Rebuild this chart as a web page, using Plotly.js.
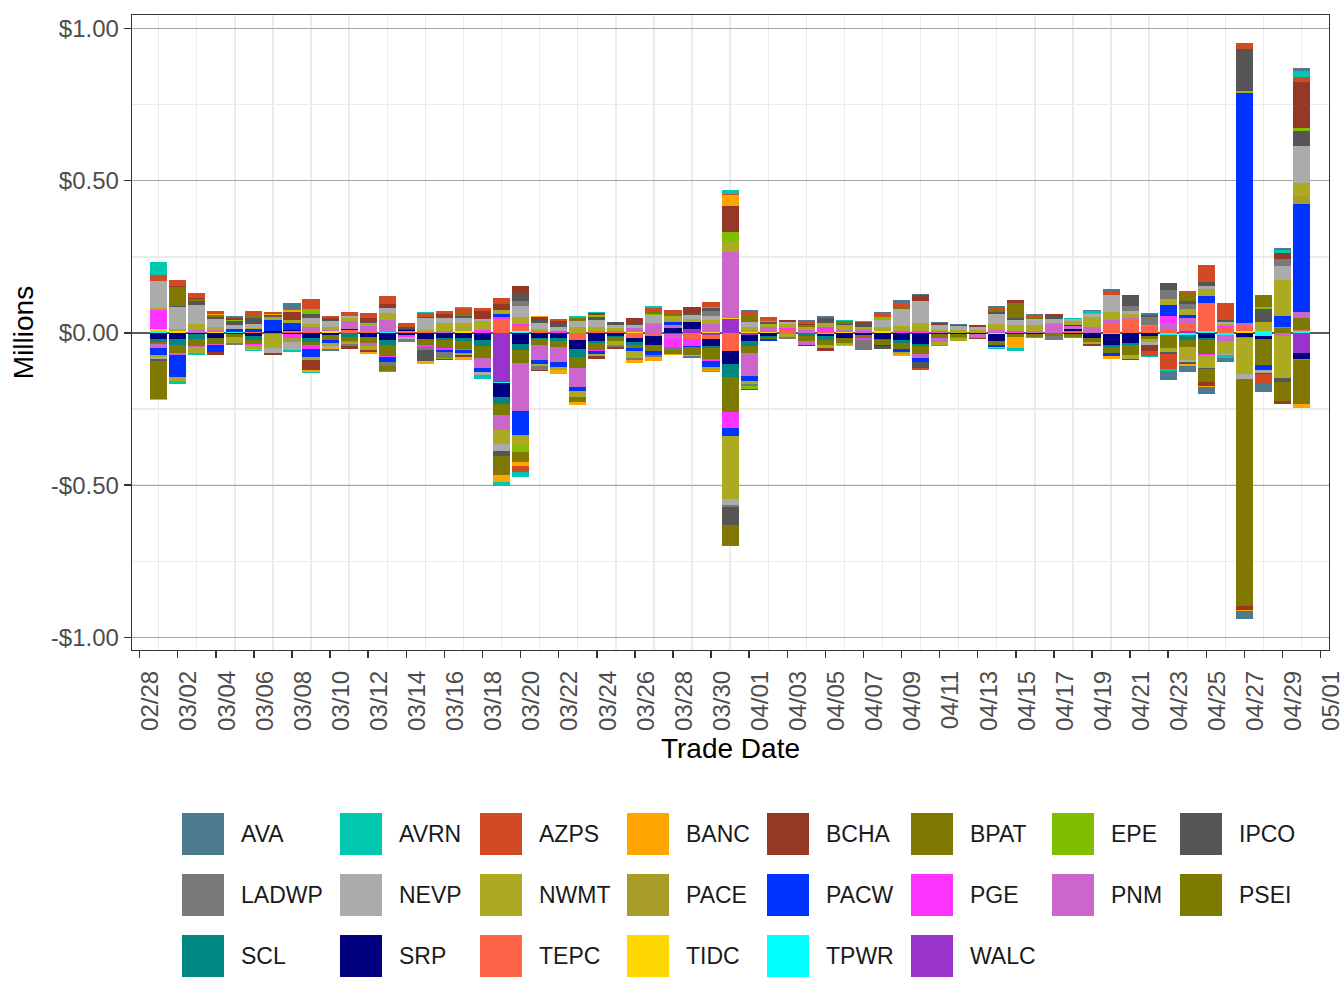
<!DOCTYPE html>
<html><head><meta charset="utf-8">
<script src="https://cdn.plot.ly/plotly-3.0.1.min.js"></script>
<style>html,body{margin:0;padding:0;background:#fff}#chart{width:1344px;height:1008px}</style>
</head><body><div id="chart"></div>
<script>
// ---- categories (trade dates, 2023) ----
const dates = ['2023-03-01','2023-03-02','2023-03-03','2023-03-04','2023-03-05','2023-03-06','2023-03-07','2023-03-08','2023-03-09','2023-03-10',
'2023-03-11','2023-03-12','2023-03-13','2023-03-14','2023-03-15','2023-03-16','2023-03-17','2023-03-18','2023-03-19','2023-03-20',
'2023-03-21','2023-03-22','2023-03-23','2023-03-24','2023-03-25','2023-03-26','2023-03-27','2023-03-28','2023-03-29','2023-03-30',
'2023-03-31','2023-04-01','2023-04-02','2023-04-03','2023-04-04','2023-04-05','2023-04-06','2023-04-07','2023-04-08','2023-04-09',
'2023-04-10','2023-04-11','2023-04-12','2023-04-13','2023-04-14','2023-04-15','2023-04-16','2023-04-17','2023-04-18','2023-04-19',
'2023-04-20','2023-04-21','2023-04-22','2023-04-23','2023-04-24','2023-04-25','2023-04-26','2023-04-27','2023-04-28','2023-04-29',
'2023-04-30'];

const seriesNames  = ['AVA','AVRN','AZPS','BANC','BCHA','BPAT','EPE','IPCO','LADWP','NEVP','NWMT','PACE','PACW','PGE','PNM','PSEI','SCL','SRP','TEPC','TIDC','TPWR','WALC'];
const seriesColors = ['#4E7A8F','#00C8B0','#D24A24','#FFA500','#963826','#807800','#80BF00','#555555','#797979','#ABABAB','#ACAA20','#A89E27','#0033FF','#FF33FF','#CC66CC','#7D7A00','#008781','#000080','#FF6347','#FFD700','#00FFFF','#9933CC'];

// ---- values in $ millions; positive and negative parts per day ----
const AVA_pos  = [0,0,0,0,.002,0,0,.024,.003,0, 0,0,0,0,0,0,0,0,0,0, 0,0,0,0,0,0,0,0,0,0, 0,.007,0,0,.003,.008,0,0,.004,.01, .003,.003,.003,0,.005,0,.003,0,0,.003, .005,0,.005,0,0,0,0,0,0,.007, .009];
const AVA_neg  = [0,0,0,0,0,0,0,0,0,-.004, 0,0,0,0,0,0,0,0,0,0, 0,0,0,0,0,0,0,0,-.006,0, 0,0,0,0,0,0,0,0,0,0, 0,0,0,0,0,0,0,0,0,0, 0,0,0,-.03,-.022,-.026,-.015,-.025,-.025,0, 0];
const AVRN_pos = [.043,0,0,0,0,0,0,0,0,0, 0,0,0,0,.003,0,.004,0,0,0, 0,0,.008,.004,0,0,.007,0,0,0, .013,0,0,0,0,0,.003,.004,0,0, 0,0,0,0,0,0,0,0,.003,.005, 0,0,0,0,0,0,0,0,0,.01, .019];
const AVRN_neg = [0,-.008,-.007,0,0,-.003,0,-.007,-.004,0, 0,0,-.003,0,0,0,0,-.013,-.011,-.015, 0,0,0,0,0,0,0,0,0,-.003, 0,0,0,0,0,0,0,0,0,0, 0,-.004,0,0,-.003,-.012,0,0,0,0, 0,0,-.003,-.007,0,0,-.007,0,0,0, 0];
const AZPS_pos = [.02,.02,.018,.009,.005,.013,.006,0,.028,.006, .012,.016,.027,.014,.013,.009,.016,.01,.02,0, 0,.005,0,0,0,0,.013,.009,0,.015, .003,.014,.013,0,.008,0,0,0,.014,.011, 0,0,0,0,.008,0,.005,0,0,0, .012,0,0,0,.01,.054,.054,.018,0,0, .018];
const AZPS_neg = [0,0,0,0,0,0,0,0,0,0, 0,0,0,0,0,0,0,0,0,-.02, 0,0,0,0,0,0,0,0,0,0, 0,0,0,0,0,0,0,0,0,0, -.008,0,0,0,0,0,0,0,0,0, 0,0,-.016,-.049,0,0,0,0,-.033,0, 0];
const BANC_pos = [0,0,0,.004,0,0,.004,.004,0,0, 0,0,0,0,0,0,0,0,0,0, .005,0,0,0,0,0,0,0,0,0, .036,0,0,0,0,0,0,0,0,0, 0,0,0,0,0,0,0,0,0,0, 0,0,0,0,0,0,0,0,0,0, 0];
const BANC_neg = [-.003,0,0,0,0,-.003,0,0,-.007,-.005, 0,-.005,0,0,-.008,0,-.011,0,-.022,-.013, 0,-.011,-.008,0,0,-.008,-.012,-.004,-.004,-.003, 0,0,0,0,0,0,0,0,0,-.006, 0,0,0,0,-.005,-.034,0,0,0,0, -.008,0,0,0,-.005,-.003,0,-.005,0,0, -.013];
const BCHA_pos = [0,.004,.004,0,.006,0,0,.027,0,.005, 0,.014,.014,0,.004,.008,0,.024,.02,.023, .008,.009,0,.007,0,.019,0,0,.022,0, .088,0,0,.007,.005,0,0,.008,0,0, .02,.008,0,.006,0,.011,0,.006,0,0, 0,.003,0,0,0,0,0,0,0,.02, .149];
const BCHA_neg = [0,0,0,-.009,0,0,-.007,0,-.03,0, -.009,-.008,0,0,0,-.004,-.006,0,0,0, -.005,0,0,-.008,-.005,0,0,0,0,0, 0,-.004,0,0,0,-.009,0,0,0,0, 0,0,0,-.005,0,0,0,0,0,-.008, 0,-.004,-.02,0,0,-.013,0,-.013,-.005,-.009, 0];
const BPAT_pos = [0,.061,.006,.005,0,.011,0,0,0,0, 0,0,0,0,0,0,.008,0,0,0, 0,0,.008,0,0,0,.008,.011,0,0, 0,.02,0,0,.008,0,.011,0,0,.007, 0,0,0,0,.006,.047,.009,0,0,0, 0,0,0,0,.023,0,0,0,.042,0, 0];
const BPAT_neg = [-.125,0,0,0,0,0,0,0,0,0, 0,0,-.016,0,0,0,0,0,-.063,-.033, 0,0,-.016,0,0,0,0,-.013,-.027,0, -.068,0,0,0,0,0,0,0,0,0, 0,0,0,0,0,0,0,0,0,0, 0,0,0,0,0,-.042,0,-.746,0,-.062, -.144];
const EPE_pos  = [0,0,0,0,.004,0,0,0,.019,0, 0,0,0,0,0,0,0,0,0,0, 0,0,0,.005,0,0,.004,0,0,.004, .031,0,.002,0,0,0,0,0,.008,0, 0,0,0,0,0,0,0,0,0,.005, 0,0,0,0,0,0,0,0,.005,0, .01];
const EPE_neg  = [0,0,0,0,0,0,0,0,0,0, 0,0,0,0,0,-.004,0,0,0,-.022, 0,0,0,0,0,0,0,0,0,0, 0,-.009,0,0,0,0,0,0,0,0, 0,0,0,0,0,0,0,0,0,0, 0,0,0,0,0,0,0,0,0,0, 0];
const IPCO_pos = [0,.004,.011,.009,.013,.018,.008,0,.011,.007, 0,.003,0,.004,0,.005,.008,0,0,.026, .009,.011,0,.011,.011,.005,0,0,.005,.011, 0,0,.008,0,0,.014,.004,.01,0,0, 0,0,.003,0,.008,.008,0,.009,0,0, 0,.035,.009,.024,.01,.014,.009,.138,.042,0, .049];
const IPCO_neg = [-.008,0,0,0,0,0,0,0,0,0, 0,0,0,0,-.036,0,0,0,-.019,0, 0,0,0,0,0,0,0,0,0,0, -.058,0,0,0,0,0,0,0,-.008,0, -.02,0,0,0,0,0,0,0,0,0, 0,0,0,-.008,-.006,-.004,0,0,0,-.013, 0];
const LADWP_pos = [0,0,0,0,0,0,0,0,0,0, 0,0,0,0,0,0,0,0,0,.016, 0,0,0,0,0,0,0,0,0,.015, 0,0,0,0,0,0,0,0,0,0, 0,0,0,0,0,0,0,0,0,0, 0,.016,.026,.031,.017,0,0,0,0,.023, 0];
const LADWP_neg = [0,0,0,0,-.008,0,0,0,0,0, -.008,0,-.014,-.009,-.011,-.02,0,0,0,0, -.012,0,0,0,-.008,-.008,-.008,-.01,0,0, -.008,-.007,0,-.006,0,0,0,-.033,0,0, 0,0,0,0,0,0,0,-.011,0,0, 0,0,0,0,0,0,0,0,0,0, 0];
const NEVP_pos = [.088,.071,.063,.026,.013,.014,0,0,.022,.019, .008,0,.015,0,.038,.016,.016,.008,0,.036, .022,.014,.02,.022,.01,.011,.024,0,.014,.014, 0,.016,0,.009,0,0,0,0,.022,.057, .073,.016,.013,.009,.033,.016,.019,.014,.008,.008, .057,.011,0,0,0,.011,.006,0,0,.046, .123];
const NEVP_neg = [-.005,0,0,0,0,0,-.017,-.025,0,-.005, 0,0,0,-.006,0,0,0,-.01,-.022,0, 0,0,0,0,0,0,0,0,0,0, -.02,0,0,0,0,0,-.005,0,0,0, 0,0,0,0,0,0,0,0,0,0, 0,0,-.01,0,-.008,0,-.005,-.016,-.011,0, 0];
const NWMT_pos = [.008,.009,.02,.008,0,.005,.008,.01,.008,.009, .009,.008,.025,0,.006,.025,.025,.028,.013,.024, .005,0,.02,.014,.008,0,.004,.019,.008,.013, .033,.015,.009,.013,.008,.016,.014,.008,.016,.014, .027,.005,.009,.011,.018,.019,.019,.004,.011,.036, .027,.011,.003,.019,.019,.022,.005,.009,.032,.118, .042];
const NWMT_neg = [-.007,-.015,-.02,0,-.019,-.015,-.044,0,-.011,-.011, -.005,-.011,0,0,0,0,-.008,0,-.046,-.034, -.005,-.012,-.019,-.008,-.011,-.022,0,0,0,-.01, -.207,-.009,0,-.008,0,-.011,-.006,0,0,-.008, 0,-.01,-.008,0,0,0,0,0,0,-.006, 0,-.013,-.009,-.012,-.042,-.04,-.044,-.116,0,-.138, 0];
const PACE_pos = [0,0,0,0,0,0,0,0,0,0, 0,0,0,0,0,0,0,0,0,0, 0,0,0,0,0,0,0,0,0,0, 0,0,0,0,0,0,0,0,0,0, 0,0,0,0,0,0,0,0,0,0, 0,0,0,0,0,0,0,0,0,0, .026];
const PACE_neg = [0,0,0,0,0,0,0,-.013,0,0, 0,0,0,0,0,0,0,0,0,0, 0,0,0,0,0,0,0,0,0,0, 0,0,0,0,0,0,0,0,0,0, 0,0,0,0,0,0,0,0,0,0, 0,0,0,0,0,0,0,0,0,0, 0];
const PACW_pos = [0,0,0,0,.009,.009,.038,.023,0,0, 0,0,0,.004,0,0,0,0,.007,0, 0,0,0,0,0,0,0,.01,0,0, 0,0,0,0,0,0,0,0,0,0, 0,0,0,0,0,0,0,0,.005,0, 0,0,0,.036,.011,.022,0,.753,0,.038, .356];
const PACW_neg = [-.023,-.072,0,-.022,0,0,0,0,-.025,-.011, 0,0,-.016,0,0,-.006,-.008,-.013,0,-.078, -.013,-.015,-.016,-.011,0,-.009,-.011,0,-.003,-.022, -.026,-.016,-.006,0,-.004,0,0,0,-.006,-.008, -.014,0,0,0,-.008,0,0,0,0,0, -.009,0,0,0,0,0,0,0,-.014,0, 0];
const PGE_pos  = [.063,0,0,0,0,0,0,0,0,0, 0,0,0,0,0,0,0,.011,.009,.005, 0,.006,0,0,.004,0,0,0,0,0, 0,0,0,.006,0,.015,0,0,0,.008, .005,0,0,0,0,.007,0,0,0,0, 0,0,0,.022,0,0,.004,0,0,.003, 0];
const PGE_neg  = [0,0,0,0,0,-.003,-.004,-.013,-.013,0, -.005,-.005,-.003,-.008,-.005,-.005,-.005,0,0,0, 0,0,0,-.003,-.003,0,0,-.027,-.022,-.006, -.051,0,0,0,0,0,0,-.006,0,0, 0,0,-.003,0,0,0,-.003,0,-.004,0, 0,0,0,0,0,-.005,0,-.005,-.002,0, -.003];
const PNM_pos  = [0,0,.01,.007,0,0,0,0,.014,.005, .026,.019,.038,0,0,.008,.003,0,0,0, 0,0,0,0,0,.013,.03,.01,0,.027, .216,0,.016,0,.01,0,.008,.01,0,0, 0,.005,0,0,.011,0,.007,.028,.008,.018, .008,.008,0,.019,.019,0,0,.008,0,0, .02];
const PNM_neg  = [-.014,-.007,-.005,-.004,0,0,0,0,0,0, 0,-.006,0,0,0,0,0,-.033,-.047,-.158, -.049,-.05,-.06,0,0,0,0,-.013,0,0, 0,-.076,0,-.005,-.014,0,0,0,0,0, -.013,-.013,0,-.011,0,0,0,0,0,0, 0,0,0,0,0,0,-.019,0,0,-.006, 0];
const PSEI_pos = [0,0,0,0,0,0,0,0,0,0, 0,0,0,0,0,0,0,0,0,0, 0,0,0,0,0,0,0,0,0,0, 0,0,0,0,0,0,0,0,0,0, 0,0,0,0,0,0,0,0,0,0, 0,0,0,0,0,0,0,0,0,.015, .038];
const PSEI_neg = [-.005,-.027,-.022,-.021,-.011,-.014,0,0,-.01,-.014, -.013,-.019,-.037,0,-.022,-.027,-.027,-.04,-.038,-.043, -.02,-.021,-.038,-.022,-.011,-.011,-.019,0,0,-.037, -.116,-.023,-.004,0,-.016,-.016,-.016,-.009,-.016,-.022, -.025,-.011,-.009,0,-.013,-.009,-.01,-.011,-.008,-.014, -.021,-.034,-.011,-.042,-.024,-.047,0,0,-.085,0, 0];
const SCL_neg  = [-.011,-.019,-.016,0,0,-.011,0,0,-.014,0, -.012,0,-.014,0,0,-.008,-.009,-.02,-.023,-.02, -.005,-.009,-.025,-.008,-.005,-.009,0,0,0,-.005, -.043,-.015,-.008,0,-.01,-.011,0,0,-.003,-.008, -.008,0,0,0,0,0,0,0,0,0, -.008,-.004,0,0,-.015,-.004,0,0,0,0, 0];
const SRP_pos  = [0,0,0,0,0,0,.005,.005,0,0, .003,0,0,.004,0,0,0,0,0,0, 0,0,0,0,0,0,0,.016,.024,0, 0,0,0,0,0,0,0,0,0,0, 0,0,0,0,0,0,0,0,.008,0, 0,0,0,0,0,0,0,0,0,0, 0];
const SRP_neg  = [-.02,-.019,-.004,-.016,-.003,-.011,0,-.004,-.017,-.008, 0,-.014,-.024,-.006,-.019,-.016,-.016,-.022,-.046,-.036, -.016,-.016,-.03,-.025,-.009,-.015,-.031,0,0,-.022, -.043,-.021,-.009,0,0,-.008,-.016,-.008,-.019,-.024, -.035,-.005,-.005,-.005,-.022,-.005,-.004,0,-.005,-.016, -.036,-.034,-.009,0,0,-.018,0,-.013,-.01,0, -.02];
const TEPC_pos = [0,0,0,0,0,.003,0,.005,.006,0, .01,.005,0,.006,.004,0,0,0,.045,.016, .007,0,0,.006,.004,0,0,0,0,0, 0,0,0,.009,0,.003,0,0,0,0, 0,0,0,0,0,0,0,0,.006,0, .034,.042,.022,.014,.025,.091,.02,.018,0,0, .005];
const TEPC_neg = [0,0,0,0,0,0,0,0,0,0, 0,0,0,0,0,0,0,0,0,0, 0,0,-.023,0,0,-.016,-.01,0,-.02,-.014, -.059,0,0,0,0,0,0,0,0,0, 0,0,0,0,0,0,0,0,0,0, 0,0,0,0,0,0,0,0,0,-.004, 0];
const TIDC_pos = [.006,.005,0,.004,0,0,0,0,0,.005, 0,0,.002,0,0,0,.005,0,0,.003, 0,0,0,0,0,.002,0,0,0,.002, .004,.004,.004,0,0,0,.003,0,.005,0, 0,0,0,0,0,0,0,0,0,0, 0,0,0,0,0,0,0,.008,0,0, 0];
const TIDC_neg = [0,0,0,0,0,0,0,0,0,0, 0,0,0,0,0,0,0,0,0,0, 0,0,0,0,0,0,0,0,0,0, 0,0,0,0,0,0,0,0,0,0, 0,0,0,0,-.003,0,0,0,0,0, 0,0,0,0,0,0,0,0,0,0, 0];
const TPWR_pos = [.006,0,0,0,.003,0,0,0,0,0, 0,0,.002,0,0,0,0,0,0,.004, 0,0,0,0,0,0,0,0,0,0, 0,0,0,0,0,0,0,0,0,0, 0,0,0,0,0,0,0,0,0,0, 0,0,0,0,0,.008,0,0,.005,0, .005];
const TPWR_neg = [0,0,0,0,0,0,0,0,0,0, 0,0,0,0,0,0,0,0,-.002,0, 0,0,0,0,0,0,0,0,0,0, 0,0,0,0,0,-.003,0,0,0,0, 0,0,0,0,0,0,0,0,0,0, -.002,0,0,-.007,-.007,0,-.006,0,-.009,0, 0];
const WALC_pos = [0,0,0,0,0,0,0,0,0,0, 0,0,0,0,0,0,0,0,0,0, 0,0,0,0,0,0,0,0,.013,0, .046,0,0,0,0,0,0,0,0,0, 0,0,0,0,0,0,0,0,0,0, 0,0,0,0,.005,0,0,0,0,0, 0];
const WALC_neg = [0,0,0,0,0,0,0,0,0,0, 0,0,0,0,0,0,0,0,-.162,0, 0,0,0,0,0,0,0,-.005,0,-.007, 0,-.007,0,0,0,0,0,0,0,0, 0,0,0,0,0,0,0,0,0,0, 0,0,0,0,0,0,0,0,0,0, -.066];

// y tick labels
const yTickVals = [-1, -0.5, 0, 0.5, 1];
const yTickText = ['-$1.00', '-$0.50', '$0.00', '$0.50', '$1.00'];

const posParts = {AVA:AVA_pos,AVRN:AVRN_pos,AZPS:AZPS_pos,BANC:BANC_pos,BCHA:BCHA_pos,BPAT:BPAT_pos,EPE:EPE_pos,IPCO:IPCO_pos,LADWP:LADWP_pos,NEVP:NEVP_pos,NWMT:NWMT_pos,PACE:PACE_pos,PACW:PACW_pos,PGE:PGE_pos,PNM:PNM_pos,PSEI:PSEI_pos,SCL:null,SRP:SRP_pos,TEPC:TEPC_pos,TIDC:TIDC_pos,TPWR:TPWR_pos,WALC:WALC_pos};
const negParts = {AVA:AVA_neg,AVRN:AVRN_neg,AZPS:AZPS_neg,BANC:BANC_neg,BCHA:BCHA_neg,BPAT:BPAT_neg,EPE:EPE_neg,IPCO:IPCO_neg,LADWP:LADWP_neg,NEVP:NEVP_neg,NWMT:NWMT_neg,PACE:PACE_neg,PACW:PACW_neg,PGE:PGE_neg,PNM:PNM_neg,PSEI:PSEI_neg,SCL:SCL_neg,SRP:SRP_neg,TEPC:TEPC_neg,TIDC:TIDC_neg,TPWR:TPWR_neg,WALC:WALC_neg};

const DAY = 86400000;
const traces = [];
// stacking: last legend entry sits next to zero, first (AVA) is outermost
for (let k = seriesNames.length - 1; k >= 0; k--) {
  const name = seriesNames[k], col = seriesColors[k];
  [posParts[name], negParts[name]].forEach(arr => {
    if (!arr) return;
    traces.push({type:'bar', x:dates, y:arr, name:name, width:0.9*DAY,
      marker:{color:col, line:{width:0}}, showlegend:false, hoverinfo:'x+y+name'});
  });
}

// plot-area pixel frame
const L = 132, R = 1329, T = 15, B = 650;
const px = v => (v - L) / (R - L);
const py = v => (B - v) / (B - T);

// legend (3 rows x 8 columns, filled by row)
const colLeft = [182, 340, 480, 627, 767, 911, 1052, 1180];
const rowMid = [834, 895, 956];
const shapes = [], annotations = [];
seriesNames.forEach((name, i) => {
  const c = i % 8, r = Math.floor(i / 8);
  shapes.push({type:'rect', xref:'paper', yref:'paper', x0:px(colLeft[c]), x1:px(colLeft[c] + 42),
    y0:py(rowMid[r] + 21), y1:py(rowMid[r] - 21), fillcolor:seriesColors[i], line:{width:0}});
  annotations.push({xref:'paper', yref:'paper', x:px(colLeft[c] + 57), y:py(rowMid[r]), xanchor:'left', yanchor:'middle',
    text:name, showarrow:false, font:{size:23, color:'#1a1a1a'}});
});

const layout = {
  width:1344, height:1008,
  margin:{l:L, r:1344 - R, t:T, b:1008 - B},
  paper_bgcolor:'#ffffff', plot_bgcolor:'#ffffff',
  font:{family:'"Liberation Sans", Arial, sans-serif', color:'#000'},
  barmode:'relative', bargap:0,
  showlegend:false,
  xaxis:{type:'date', range:['2023-02-27 14:25', '2023-05-01 10:35'],
    tick0:'2023-02-28', dtick:2*DAY, tickformat:'%m/%d', tickangle:-90,
    ticks:'outside', ticklen:7, tickwidth:1.5, tickcolor:'#333333',
    tickfont:{size:24, color:'#4d4d4d'}, ticklabelshift:11, ticklabelstandoff:3,
    ticklabeloverflow:'allow',
    showgrid:false,
    minor:{dtick:DAY, tick0:'2023-03-01', showgrid:true, gridcolor:'#ebebeb', gridwidth:1.4, ticks:''},
    showline:true, mirror:true, linecolor:'#333333', linewidth:1.3, zeroline:false,
    title:{text:'Trade Date', font:{size:28, color:'#000'}, standoff:8}},
  yaxis:{range:[-1.041, 1.044], tickvals:yTickVals, ticktext:yTickText,
    ticks:'outside', ticklen:7, tickwidth:1.5, tickcolor:'#333333',
    tickfont:{size:24, color:'#4d4d4d'},
    showgrid:true, gridcolor:'#a6a6a6', gridwidth:1,
    minor:{dtick:0.25, tick0:0, showgrid:true, gridcolor:'#ebebeb', gridwidth:1.6, ticks:''},
    zeroline:true, zerolinecolor:'#5a5a5a', zerolinewidth:1.2,
    showline:true, mirror:true, linecolor:'#333333', linewidth:1.3,
    title:{text:'Millions', font:{size:28, color:'#000'}, standoff:9}},
  shapes:shapes, annotations:annotations
};

Plotly.newPlot('chart', traces, layout, {staticPlot:true, displayModeBar:false});
</script>
</body></html>
